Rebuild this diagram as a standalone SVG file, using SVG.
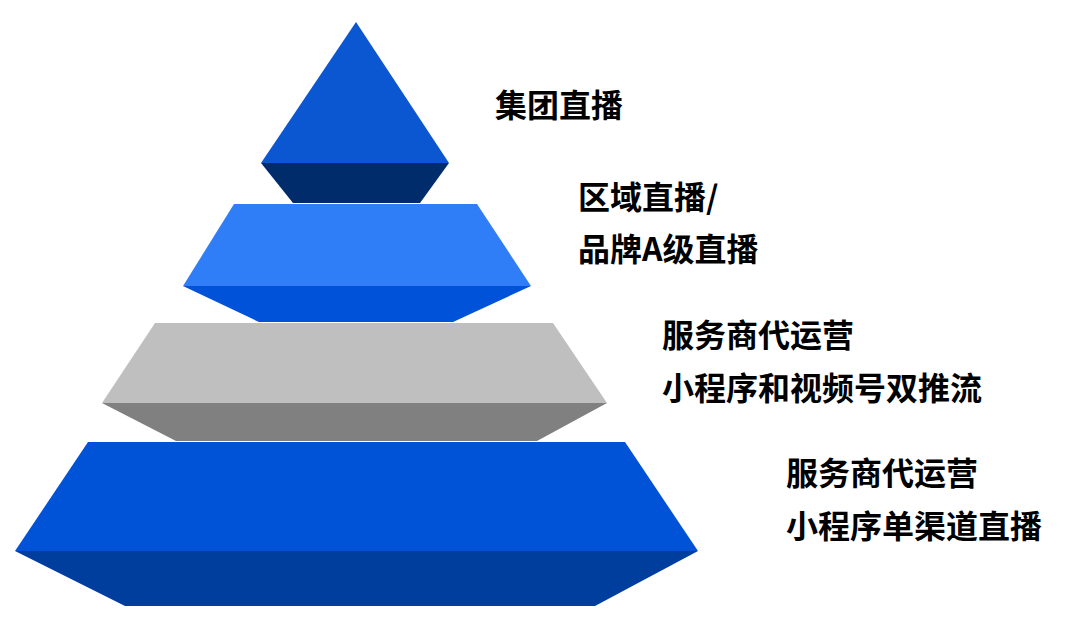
<svg xmlns="http://www.w3.org/2000/svg" width="1066" height="644" viewBox="0 0 1066 644">
  <style>
    .lbl { font-family: "Noto Sans CJK SC", "Noto Sans", sans-serif; font-weight: 700; font-size: 32px; fill: #000000; }
  </style>
  <rect x="0" y="0" width="1066" height="644" fill="#ffffff"/>
  <g id="tier1">
    <polygon points="356,22 449,163 261,163" fill="#0a57d1"/>
    <polygon points="261,163 449,163 420,203 293,203" fill="#002c6c"/>
    <text class="lbl" x="495" y="117">集团直播</text>
  </g>
  <g id="tier2">
    <polygon points="234,204 477,204 531,286 183,286" fill="#2f7df7"/>
    <polygon points="183,286 531,286 453,322 259,322" fill="#0052d9"/>
    <text class="lbl" x="578" y="209">区域直播/</text>
    <text class="lbl" x="578" y="261">品牌A级直播</text>
  </g>
  <g id="tier3">
    <polygon points="155,323 553,323 607,403 102,403" fill="#bfbfbf"/>
    <polygon points="102,403 607,403 537,441 176,441" fill="#808080"/>
    <text class="lbl" x="662" y="347">服务商代运营</text>
    <text class="lbl" x="662" y="400">小程序和视频号双推流</text>
  </g>
  <g id="tier4">
    <polygon points="88,442 625,442 698,551 15,551" fill="#0052d6"/>
    <polygon points="15,551 698,551 595,606 125,606" fill="#003e9e"/>
    <text class="lbl" x="786" y="485">服务商代运营</text>
    <text class="lbl" x="786" y="538">小程序单渠道直播</text>
  </g>
  <g id="connectors"/>
</svg>
